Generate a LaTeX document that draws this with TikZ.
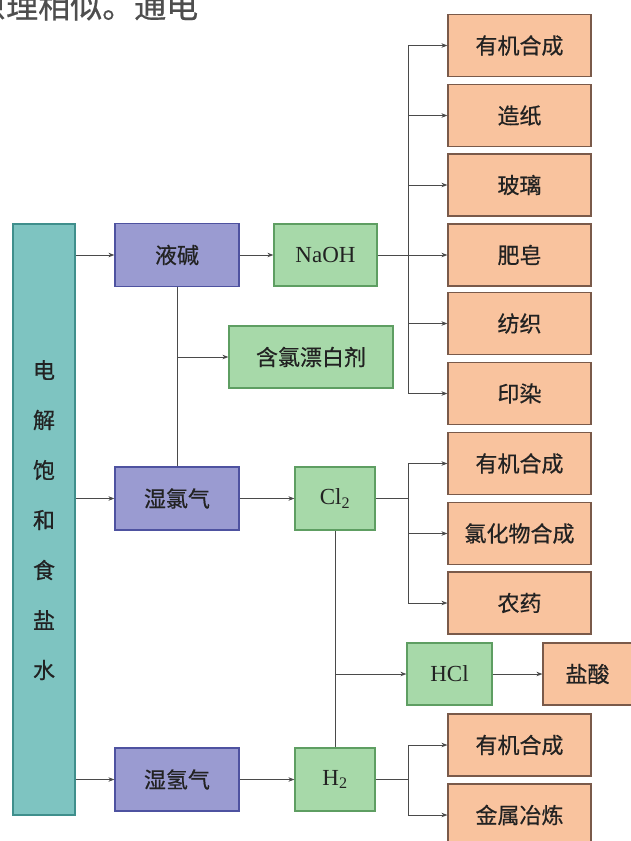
\documentclass[tikz,border=0pt]{standalone}
\usepackage{fontspec}
\setmainfont{Liberation Serif}
\newfontfamily\cjk[FakeBold=0.6]{Noto Sans CJK SC}
\usetikzlibrary{arrows.meta}
\definecolor{tealF}{HTML}{7EC4C1}\definecolor{tealD}{HTML}{3F8F8C}
\definecolor{purF}{HTML}{9A9BD1}\definecolor{purD}{HTML}{4E52A0}
\definecolor{grnF}{HTML}{A7D9A9}\definecolor{grnD}{HTML}{5E9E62}
\definecolor{orgF}{HTML}{F9C39E}\definecolor{orgD}{HTML}{7A5A4A}
\definecolor{lineC}{HTML}{4A4A4A}
\definecolor{txtC}{HTML}{222222}
\tikzset{
  base/.style={draw, line width=1.2pt, inner sep=0pt, font=\fontsize{23}{26}\selectfont, text=txtC},
  cjkfont/.style={font=\cjk\fontsize{22}{25}\selectfont},
  tealbox/.style={base, fill=tealF, draw=tealD},
  purbox/.style={base, cjkfont, fill=purF, draw=purD, minimum width=124pt, minimum height=63pt},
  grnbox/.style={base, fill=grnF, draw=grnD},
  orgbox/.style={base, cjkfont, fill=orgF, draw=orgD, minimum width=143pt, minimum height=62pt},
  ln/.style={draw=lineC, line width=0.9pt},
  arr/.style={ln, -{Stealth[length=6pt,width=4.5pt]}},
}
\begin{document}
\begin{tikzpicture}[x=1pt,y=-1pt]
\useasboundingbox (0,0) rectangle (631,841);
\fill[white] (0,0) rectangle (631,841);
% top text fragment
\node[anchor=base west, inner sep=0pt, font=\cjk\fontsize{32}{33}\selectfont, text=txtC!80] (toptext) at (-26,18) {原理相似。通电};
% left column
\node[tealbox, minimum width=62pt, minimum height=591pt] (brine) at (44,519.5) {};
\foreach \c [count=\i] in {电,解,饱,和,食,盐,水}
  \node[cjkfont, text=txtC] (bc\i) at (44,{320+50*\i}) {\c};
% second column
\node[purbox] (yj) at (177,255) {液碱};
\node[purbox] (slq) at (177,498.5) {湿氯气};
\node[purbox] (sqq) at (177,779.5) {湿氢气};
% green boxes
\node[grnbox, minimum width=103pt, minimum height=62pt] (naoh) at (325.5,255) {NaOH};
\node[grnbox, cjkfont, minimum width=164pt, minimum height=62pt] (bleach) at (311,357) {含氯漂白剂};
\node[grnbox, minimum width=80pt, minimum height=63pt] (cl2) at (335,498.5) {Cl\textsubscript{2}};
\node[grnbox, minimum width=80pt, minimum height=63pt] (h2) at (335,779.5) {H\textsubscript{2}};
\node[grnbox, minimum width=85pt, minimum height=62pt] (hcl) at (449.5,674) {HCl};
% orange boxes
\node[orgbox] (o1) at (519.5,45.5) {有机合成};
\node[orgbox] (o2) at (519.5,115.5) {造纸};
\node[orgbox] (o3) at (519.5,185) {玻璃};
\node[orgbox] (o4) at (519.5,255) {肥皂};
\node[orgbox] (o5) at (519.5,323.5) {纺织};
\node[orgbox] (o6) at (519.5,393.5) {印染};
\node[orgbox] (o7) at (519.5,463.5) {有机合成};
\node[orgbox] (o8) at (519.5,533.5) {氯化物合成};
\node[orgbox] (o9) at (519.5,603) {农药};
\node[orgbox, minimum width=97pt] (hsuan) at (591.5,674) {\hspace*{-8pt}盐酸};
\node[orgbox] (o10) at (519.5,745) {有机合成};
\node[orgbox] (o11) at (519.5,815) {金属冶炼};
% branch x
\coordinate (bx) at (408,0);
% connectors: NaOH branch
\draw[arr] (brine.east |- yj.west) -- (yj.west);
\draw[arr] (yj.east) -- (naoh.west);
\draw[ln] (naoh.east) -- (bx |- naoh.east);
\draw[ln] (bx |- o1.west) -- (bx |- o6.west);
\foreach \o in {o1,o2,o3,o4,o5,o6} \draw[arr] (bx |- \o.west) -- (\o.west);
% liquid alkali down to wet chlorine, bleach
\draw[ln] (yj.south) -- (slq.north);
\draw[arr] (yj.south |- bleach.west) -- (bleach.west);
% chlorine
\draw[arr] (brine.east |- slq.west) -- (slq.west);
\draw[arr] (slq.east) -- (cl2.west);
\draw[ln] (cl2.east) -- (bx |- cl2.east);
\draw[ln] (bx |- o7.west) -- (bx |- o9.west);
\foreach \o in {o7,o8,o9} \draw[arr] (bx |- \o.west) -- (\o.west);
% HCl
\draw[ln] (cl2.south) -- (h2.north);
\draw[arr] (cl2.south |- hcl.west) -- (hcl.west);
\draw[arr] (hcl.east) -- (hsuan.west);
% hydrogen
\draw[arr] (brine.east |- sqq.west) -- (sqq.west);
\draw[arr] (sqq.east) -- (h2.west);
\draw[ln] (h2.east) -- (bx |- h2.east);
\draw[ln] (bx |- o10.west) -- (bx |- o11.west);
\foreach \o in {o10,o11} \draw[arr] (bx |- \o.west) -- (\o.west);
\end{tikzpicture}
\end{document}
